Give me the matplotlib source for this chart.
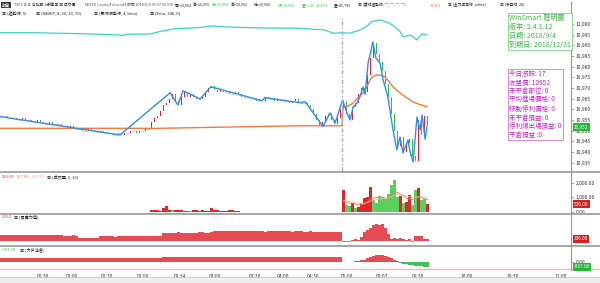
import matplotlib.pyplot as plt
from matplotlib.lines import Line2D
from matplotlib.patches import Rectangle
import numpy as np

plt.rcParams['font.family'] = ['Noto Sans CJK TC', 'DejaVu Sans']

# ---- price data (1 bar = 1 unit on x) ----
night_close = [10957, 10957, 10956, 10956, 10956, 10955, 10955, 10956, 10955, 10955,
               10954, 10954, 10955, 10954, 10953, 10953, 10954, 10953, 10953, 10953,
               10952, 10952, 10951, 10952, 10951, 10951, 10951, 10950, 10950, 10951,
               10950, 10950, 10949, 10950, 10949, 10949, 10949, 10948, 10948, 10949,
               10948, 10949, 10949, 10950, 10950, 10949, 10950, 10950, 10951, 10951,
               10954, 10956, 10957, 10959, 10962, 10963, 10965, 10967, 10964, 10962,
               10966, 10968, 10966, 10967, 10966, 10965, 10965, 10966, 10968, 10970,
               10971, 10969, 10968, 10969, 10968, 10968, 10967, 10967, 10968, 10967,
               10966, 10966, 10966, 10965, 10965, 10964, 10965, 10964, 10966, 10965,
               10965, 10964, 10965, 10964, 10964, 10964, 10963, 10964, 10965, 10963,
               10963, 10963, 10962, 10960, 10958, 10955, 10952, 10954, 10957, 10958,
               10955, 10953, 10956, 10960]
day_close = [10964, 10958, 10955, 10961, 10963, 10967, 10970, 10968, 10976, 10984,
             10991, 10986, 10982, 10978, 10972, 10966, 10958, 10950, 10943, 10947,
             10940, 10944, 10946, 10938, 10936, 10955, 10948, 10957, 10952]

# zigzag pivots (bar, price)
zz_bar = [0, 40, 56.7, 59.3, 61, 66.7, 70.3, 87.3, 88.3, 100, 101.7, 107.7, 110, 111.7, 114.2,
          115.7, 116.7, 117.7, 119, 120, 121, 121.7, 122.7, 124.3, 125.3, 126.7, 127.7, 129.3,
          131, 132.3, 133.3, 134.3, 136, 136.7, 137.7, 139, 140, 140.7, 141.7, 142.3]
zz_val = [10956.6, 10948, 10967.8, 10962, 10968.7, 10964.9, 10970.6, 10964, 10965.5, 10963.1,
          10963.6, 10951.9, 10958.3, 10953.6, 10964.4,
          10958, 10955, 10961, 10963, 10966, 10970.5, 10967, 10981.7, 10991.6, 10984,
          10981.7, 10973.8, 10965.8, 10950.3, 10941, 10947, 10939.6, 10945.6, 10940,
          10935.3, 10956.4, 10950.3, 10957.4, 10946, 10951.7]

# moving average (orange)
ma_bar = [0, 53, 80, 100, 114, 114.3, 116, 117.7, 119, 121, 122.3, 123.3, 124.5, 125.7,
          127, 128.3, 129.7, 131, 133.3, 135.5, 137.7, 140, 142.3]
ma_val = [10951.1, 10951.1, 10951.8, 10952.3, 10952.3, 10960.6, 10961.5, 10963, 10965,
          10967.7, 10970.5, 10973.8, 10975.6, 10976.1, 10976.0, 10975.2, 10973, 10970.5,
          10967.7, 10965.5, 10963.5, 10962.2, 10961.2]

# overlay line (cyan)
cy_bar = [0, 11, 22, 33, 40, 41, 42, 50, 53, 58, 62, 67, 71, 73, 80, 89, 100,
          104.4, 108.3, 111.1, 113.9, 116.7, 120, 122.2, 123.9, 126.7, 129.4, 131,
          132.2, 133.3, 134.4, 136.7, 138.3, 138.9, 140.5, 142.2]
cy_val = [10995.9, 10995.9, 10995.6, 10995.2, 10994.8, 10994.5, 10995.2, 10995.3, 10996.4,
          10997.7, 10998.0, 10998.4, 10999.1, 10998.8, 10998.4, 10998.1, 10998.0,
          10997.5, 10997.2, 10995.6, 10995.9, 10995.7, 10997.2, 10998.8, 11001.1, 11001.9,
          11000.6, 10999.4, 10998.0, 10996.5, 10994.0, 10994.8, 10993.3, 10992.5, 10995.3,
          10995.0]

# ---- volume ----
night_vol = [30, 0, 0, 0, 0, 0, 0, 0, 0, 0,
             0, 0, 0, 0, 20, 0, 0, 0, 0, 0,
             0, 0, 0, 0, 0, 0, 0, 0, 0, 0,
             0, 0, 0, 0, 20, 0, 0, 0, 0, 0,
             20, 0, 0, 0, 0, 0, 0, 0, 0, 0,
             150, 120, 140, 100, 250, 380, 160, 120, 140, 110,
             120, 100, 90, 100, 120, 130, 100, 110, 90, 100,
             260, 120, 110, 100, 90, 100, 110, 120, 100, 90,
             0, 0, 0, 0, 0, 0, 0, 0, 0, 0,
             0, 0, 0, 0, 0, 0, 0, 0, 0, 0,
             0, 0, 0, 20, 0, 0, 0, 0, 20, 20, 30, 0, 30, 0]
night_vol_green = [14, 34, 40, 57, 63]
day_vol = [1500, 450, 400, 650, 300, 350, 600, 950, 1050, 1750, 800, 650, 1100, 1050, 900,
           1250, 1850, 2200, 1000, 1100, 600, 700, 1150, 500, 1500, 1650, 800, 900, 526]
day_vol_dir = "rggrgrrrrrgggggggggrgrrggrggr"
vol_ma5 = [700, 650, 600, 620, 550, 500, 480, 560, 700, 900, 950, 1000, 1050, 1000, 950,
           1000, 1200, 1400, 1350, 1250, 1100, 950, 900, 850, 950, 1050, 1000, 900, 850]
vol_ma10 = [800, 760, 700, 680, 640, 600, 580, 600, 650, 750, 800, 850, 900, 920, 930,
            950, 1050, 1150, 1200, 1200, 1150, 1100, 1050, 1000, 1000, 1050, 1050, 1000, 950]

# ---- indicator 2 (買賣力道) ----
ind2 = [250, 260, 255, 250, 245, 250, 260, 270, 265, 260, 255, 250, 250, 255, 260, 250,
        245, 240, 245, 250, 240, 235, 230, 235, 240, 230,
        140, 130, 125, 130, 135, 140, 150,
        200, 205, 210, 205, 200, 195, 200, 205, 210, 205, 200, 210, 215, 210, 205, 200,
        205, 210, 215, 210, 220,
        360, 370, 365, 360, 370, 375, 365, 360, 370, 365, 360, 370, 375, 380, 370, 365, 375,
        420, 425, 430, 425, 420, 430, 425, 420, 425, 430, 435, 425, 420, 425, 430, 425,
        420, 415, 420, 425, 430, 425, 420, 425, 430, 420, 415, 420, 425, 420,
        410, 415, 420, 410, 405, 400, 410, 405, 400, 395, 400, 405, 400,
        -45, -40, -40, 60, 100, 60, 180, 400, 470, 590, 690, 730, 690, 760, 550, 320,
        100, 130, 100, 130, 100, 30, 90, -45, 200, 220, 200, 100, 106]

# ---- indicator 3 (大戶淨倉) ----
ind3 = [1070, 1080, 1075, 1070, 1065, 1070, 1080, 1085, 1075, 1070, 1065, 1060, 1070, 1075,
        1070, 1065, 1060, 1055, 1060, 1065, 1060, 1050, 1040, 1045, 1050, 1040, 1035, 1030,
        1040, 1045, 1050, 1040, 1035, 1040, 1045, 1040, 1035, 1030,
        930, 920, 925, 920, 915, 920, 925, 930, 920, 915, 920, 930, 940, 935, 930, 940,
        1250, 1260, 1270, 1265, 1260, 1270, 1280, 1275, 1270, 1280, 1290, 1285, 1280, 1290,
        1295, 1290, 1300, 1295, 1290, 1300, 1305, 1300, 1295, 1300, 1305, 1300, 1295, 1290,
        1300, 1305, 1300, 1295, 1290, 1295, 1300, 1295, 1290, 1285, 1290, 1295, 1290, 1285,
        1280, 1270, 1260, 1250, 1240, 1230, 1220, 1210, 1200, 1190, 1180, 1170, 1160, 1150,
        1150, 1140, 1150, 1150,
        -20, 30, 60, 120, 200, 300, 450, 600, 900, 1150, 1450, 1690, 1700, 1650, 1500, 1200,
        900, 600, 250, -200, -350, -480, -600, -700, -820, -900, -950, -980, -997]

time_labels = ["00:30", "01:00", "01:30", "02:00", "02:34", "03:00", "03:30", "04:00",
               "04:30", "05:00", "09:07", "09:30", "10:00", "10:30", "11:00"]
time_pos = [14.3, 24, 35.7, 47.7, 60, 71.7, 85, 94.3, 104.3, 115.7, 127.3, 139.3, 155.7, 171, 187]

info_green = "WinSmart 聰明贏\n版本: 2.4.1.12\n日期: 2018/9/4\n到期日: 2018/12/31"
info_purple = ("今日漲跌: 17\n收盤價: 10952\n未平倉部位: 0\n平均進場價格: 0\n"
               "移動停利價格: 0\n未平倉損益: 0\n停利線出場損益: 0\n平倉損益 :0")

RED = '#e0262c'
GREEN = '#35b94a'
W, H = 600, 283

close = night_close + day_close
n = len(close)
xs = np.arange(n) + 0.5
opens = [close[0]] + close[:-1]
vol = night_vol + day_vol
vol_dir = ''.join('g' if i in night_vol_green else 'r' for i in range(len(night_vol))) + day_vol_dir

fig = plt.figure(figsize=(6, 2.83), dpi=100)
xr = 571 / W


def mkax(top_px, bot_px):
    ax = fig.add_axes([0, 1 - bot_px / H, xr, (bot_px - top_px) / H])
    for s in ax.spines.values():
        s.set_visible(False)
    ax.set_xlim(0, 571 / 3)
    ax.set_xticks([])
    ax.yaxis.tick_right()
    ax.tick_params(axis='y', length=2, width=0.5, color='#888', labelsize=3.6,
                   labelcolor='#333', pad=1.5)
    return ax


ax = mkax(18, 171)
axv = mkax(173, 213)
ax2 = mkax(214, 245)
ax3 = mkax(247, 268)

# price panel
ax.set_ylim(10931.1, 11002.8)
ax.set_yticks(np.arange(10935, 11001, 5))
ax.set_yticklabels([f'{v:,.0f}' for v in np.arange(10935, 11001, 5)])
for x, o, c in zip(xs, opens, close):
    if c > o:
        ax.bar(x, c - o, bottom=o, width=0.6, color=RED, lw=0)
    elif c < o:
        ax.bar(x, o - c, bottom=c, width=0.6, color=GREEN, lw=0)
    else:
        ax.hlines(c, x - 0.4, x + 0.4, color='#c8c8c8', lw=0.8)
ax.plot(ma_bar, ma_val, color='#f47a3c', lw=1.0)
ax.plot(cy_bar, cy_val, color='#33d6c4', lw=0.9)
ax.plot(zz_bar, zz_val, color='#2f8ff0', lw=1.0)
ax.axvline(114, color='#a8a8f0', lw=1.0, ls=(0, (3, 1.5, 1, 1.5)))

# volume panel
axv.set_ylim(-70, 2690)
axv.set_yticks([0, 1000, 2000])
axv.set_yticklabels(['0.00', '1,000.00', '2,000.00'])
vcols = [RED if d == 'r' else '#5acf5f' for d in vol_dir]
axv.bar(xs, vol, width=0.75, color=vcols, lw=0)
dx = xs[len(night_vol):]
axv.plot(dx, vol_ma5, color='#f08040', lw=0.6)
axv.plot(dx, vol_ma10, color='#f6b89a', lw=0.6)

# indicator 2
ax2.set_ylim(-180, 1190)
ax2.set_yticks([])
ax2.bar(xs, ind2, width=0.7, color=['#e44b52' if v >= 0 else '#3cc454' for v in ind2], lw=0)

# indicator 3
ax3.set_ylim(-1310, 3520)
ax3.set_yticks([0])
ax3.set_yticklabels(['0.00'])
ax3.bar(xs, ind3, width=0.7, color=['#e44b52' if v >= 0 else '#3cc454' for v in ind3], lw=0)
ax3.set_xticks(time_pos)
ax3.set_xticklabels(time_labels)
ax3.tick_params(axis='x', length=0, labelsize=3.6, labelcolor='#333', pad=4)


def fline(x0, x1, y0, y1, **kw):
    fig.add_artist(Line2D([x0 / W, x1 / W], [1 - y0 / H, 1 - y1 / H],
                          transform=fig.transFigure, **kw))


# panel separators and frame lines
for y in (172, 213.5, 246):
    fline(0, W, y, y, color='#a6a6a6', lw=1.4)
fline(0, W, 268.5, 268.5, color='#f5b5b5', lw=1.0)
fline(0, W, 277, 277, color='#c8c8c8', lw=0.6)
fig.add_artist(Rectangle((0, 0), 1, 5 / H, transform=fig.transFigure,
                         color='#eeeeee', lw=0))
fline(571, 571, 2, 270, color='#f06e6e', lw=0.8)


def ftext(x, y, s, color='#222', size=3.4, **kw):
    return fig.text(x / W, 1 - y / H, s, color=color, fontsize=size, va='center',
                    ha='left', **kw)


renderer = fig.canvas.get_renderer()


def text_row(items, y, size, x_start=0):
    # lay texts left to right, never letting one run into the next
    cur = x_start
    for x, s, c in items:
        x = max(x, cur + 1.5)
        t = ftext(x, y, s, color=c, size=size)
        bb = t.get_window_extent(renderer)
        cur = bb.x1


# header lines
ftext(2, 5, '期貨', color='white', size=3.0,
      bbox=dict(boxstyle='square,pad=0.15', fc='#333', ec='none'))
hdr1 = [(14, 'TXF1 ⊟ ⊞', '#555'), (28, '台指期 1分鐘 ▣ ▣ 成交價', '#222'),
        (84, 'TAIFEX CapitalFuturesM 時間 2018/9/4 09:37:50.978', '#555'),
        (160, '開=10,952', '#222'), (182, '高=10,955', '#222'),
        (206, '低=10,950', '#2ecc40'), (230, '高=10,952', '#222'),
        (254, '低=10,950', '#222'), (278, '收=10,952', '#2ecc40'),
        (302, '量=+16 +0.15%', '#2ecc40'), (334, '量=45,795', '#222'),
        (358, '▣ (雙線趨勢線, "", "", "", "")', '#222'), (430, '10,961', '#f07a30'),
        (448, '▣ (主力成本線, white)', '#222'), (500, '▣ (多空線, 20)', '#222')]
text_row(hdr1, 5, 2.7, x_start=12)
hdr2 = [(1, '▣ (趨勢線, 5)', '#222'), (36, '▣ (RAVEP, 8, 20, 20, 70)', '#222'),
        (94, '▣ (雙線漲勢線, 4, blue)', '#222'), (150, '▣ (Ema, 240, 0)', '#222')]
text_row(hdr2, 13, 3.0)

# panel headers
text_row([(1, '526.00', '#e03030'), (17, '557.40', '#f08040'), (32, '657.00', '#f0a080'),
          (47, '▣ (成交量, 5, 10)', '#222')], 177, 3.0)
text_row([(1, '106.0', '#e03030'), (14, '▣ (買賣力道)', '#222')], 217, 3.0)
text_row([(1, '-997.00', '#2ecc40'), (20, '▣ (大戶淨倉)', '#222')], 250, 3.0)

# value boxes on right axis
for y, s, c in [(127, '10,952', '#22b83a'), (204, '526.00', '#d81e1e'),
                (239, '106.00', '#d81e1e'), (267, '-997.00', '#22b83a')]:
    ftext(574, y, s, color='white', size=3.4,
          bbox=dict(boxstyle='square,pad=0.25', fc=c, ec='none'))

# info boxes
fig.text(509 / W, 1 - 14 / H, info_green, color='#3cb84a', fontsize=5.1, va='top', ha='left',
         linespacing=1.15, bbox=dict(boxstyle='square,pad=0.2', fc='white', ec='#8fd88f', lw=0.7))
fig.text(509 / W, 1 - 70 / H, info_purple, color='#c02cc0', fontsize=4.7, va='top', ha='left',
         linespacing=1.12, bbox=dict(boxstyle='square,pad=0.2', fc='white', ec='#d68ad6', lw=0.7))

fig.savefig('out.png', dpi=100)
